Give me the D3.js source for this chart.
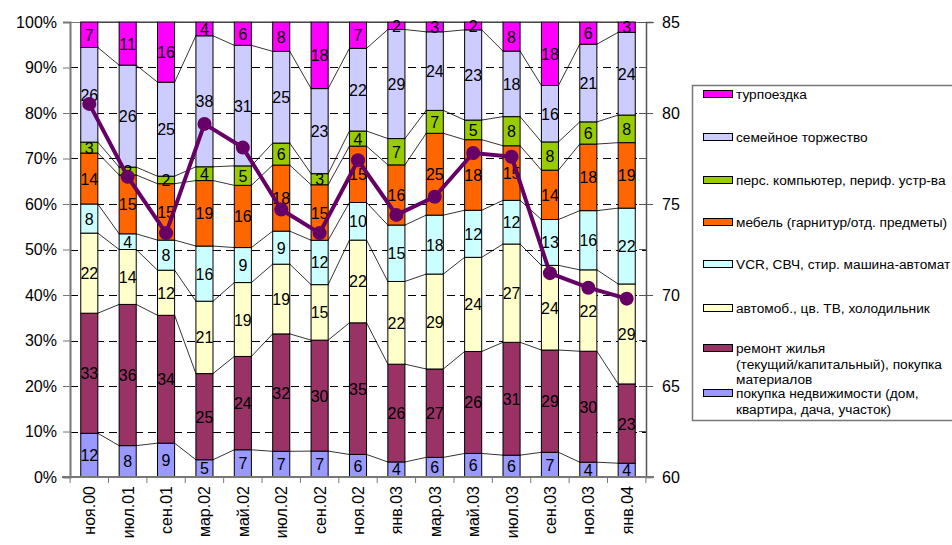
<!DOCTYPE html>
<html>
<head>
<meta charset="utf-8">
<script src="https://cdn.jsdelivr.net/npm/d3@7"></script>
<style>
  body { margin: 0; background: #fff; }
  svg { font-family: "Liberation Sans", Arial, sans-serif; }
</style>
</head>
<body>
<div class="container"></div>
<script>
const WIDTH = 952;
const HEIGHT = 545;

var months = ["ноя.00", "июл.01", "сен.01", "мар.02", "май.02", "июл.02", "сен.02", "ноя.02",
              "янв.03", "мар.03", "май.03", "июл.03", "сен.03", "ноя.03", "янв.04"];

// series from bottom to top
var realty   = [12, 8, 9, 5, 7, 7, 7, 6, 4, 6, 6, 6, 7, 4, 4];
var repair   = [33, 36, 34, 25, 24, 32, 30, 35, 26, 27, 26, 31, 29, 30, 23];
var car      = [22, 14, 12, 21, 19, 19, 15, 22, 22, 29, 24, 27, 24, 22, 29];
var vcr      = [8, 4, 8, 16, 9, 9, 12, 10, 15, 18, 12, 12, 13, 16, 22];
var furnit   = [14, 15, 15, 19, 16, 18, 15, 15, 16, 25, 18, 15, 14, 18, 19];
var pc       = [3, 2, 2, 4, 5, 6, 3, 4, 7, 7, 5, 8, 8, 6, 8];
var family   = [26, 26, 25, 38, 31, 25, 23, 22, 29, 24, 23, 18, 16, 21, 24];
var trip     = [7, 11, 16, 4, 6, 8, 18, 7, 2, 3, 2, 8, 18, 6, 3];

// line on right axis
var index = [80.5, 76.5, 73.4, 79.4, 78.1, 74.7, 73.4, 77.4, 74.4, 75.4, 77.8, 77.6, 71.2, 70.4, 69.8];

var seriesNames = [
    "покупка недвижимости (дом, квартира, дача, участок)",
    "ремонт жилья (текущий/капитальный), покупка материалов",
    "автомоб., цв. ТВ, холодильник",
    "VCR, СВЧ, стир. машина-автомат",
    "мебель (гарнитур/отд. предметы)",
    "перс. компьютер, периф. устр-ва",
    "семейное торжество",
    "турпоездка"
];
var seriesValues = [realty, repair, car, vcr, furnit, pc, family, trip];
var colors = ["#9999FF", "#993366", "#FFFFCC", "#CCFFFF", "#FF6600", "#99CC00", "#CCCCFF", "#FF00FF"];

// legend lines (top to bottom as shown)
var legendLines = [
    ["турпоездка"],
    ["семейное торжество"],
    ["перс. компьютер, периф. устр-ва"],
    ["мебель (гарнитур/отд. предметы)"],
    ["VCR, СВЧ, стир. машина-автомат"],
    ["автомоб., цв. ТВ, холодильник"],
    ["ремонт жилья", "(текущий/капитальный), покупка", "материалов"],
    ["покупка недвижимости (дом,", "квартира, дача, участок)"]
];

var load = function(){
    var left = 70, right = 646, top = 22, bottom = 477;

    var svg = d3.select(".container")
        .append("svg")
        .attr("width", WIDTH)
        .attr("height", HEIGHT);

    var rows = months.map(function(m, i){
        var r = {month: m};
        seriesValues.forEach(function(s, k){ r["s" + k] = s[i]; });
        return r;
    });
    var keys = seriesValues.map(function(s, k){ return "s" + k; });
    var stacked = d3.stack().keys(keys).offset(d3.stackOffsetExpand)(rows);

    var x = d3.scaleBand().domain(months).range([left, right]).paddingInner(0.555).paddingOuter(0.28);
    var y = d3.scaleLinear().domain([0, 1]).range([bottom, top]);
    var y2 = d3.scaleLinear().domain([60, 85]).range([bottom, top]);

    // gridlines
    svg.append("g")
        .selectAll("line")
        .data(d3.range(0.1, 1.0, 0.1))
        .enter()
        .append("line")
        .attr("x1", left).attr("x2", right)
        .attr("y1", function(d){ return Math.round(y(d)) + 0.5; })
        .attr("y2", function(d){ return Math.round(y(d)) + 0.5; })
        .style("stroke", "#000")
        .style("stroke-dasharray", "8,5");
    svg.append("line")
        .attr("x1", left).attr("x2", right + 8)
        .attr("y1", top + 0.5).attr("y2", top + 0.5)
        .style("stroke", "#777");

    // series lines between bars
    var bw = x.bandwidth();
    stacked.forEach(function(layer){
        for (var i = 0; i < months.length - 1; i++) {
            svg.append("line")
                .attr("x1", x(months[i]) + bw)
                .attr("y1", y(layer[i][1]))
                .attr("x2", x(months[i + 1]))
                .attr("y2", y(layer[i + 1][1]))
                .style("stroke", "#000")
                .style("stroke-width", 0.8);
        }
    });

    // bars
    var layers = svg.append("g")
        .selectAll("g")
        .data(stacked)
        .enter()
        .append("g")
        .attr("fill", function(d, k){ return colors[k]; });

    layers.selectAll("rect")
        .data(function(d){ return d; })
        .enter()
        .append("rect")
        .attr("x", function(d){ return x(d.data.month); })
        .attr("y", function(d){ return y(d[1]); })
        .attr("width", bw)
        .attr("height", function(d){ return y(d[0]) - y(d[1]); })
        .style("stroke", "#000")
        .style("stroke-width", 1);

    // value labels
    stacked.forEach(function(layer, k){
        svg.append("g")
            .selectAll("text")
            .data(layer)
            .enter()
            .append("text")
            .attr("x", function(d){ return x(d.data.month) + bw / 2; })
            .attr("y", function(d){ return (y(d[0]) + y(d[1])) / 2 + 6; })
            .attr("text-anchor", "middle")
            .style("font-size", "16px")
            .text(function(d, i){ return seriesValues[k][i]; });
    });

    // left axis
    var yAxis = d3.axisLeft(y).tickValues(d3.range(0, 1.01, 0.1))
        .tickFormat(d3.format(".0%")).tickSize(7).tickPadding(6);
    var gy = svg.append("g").attr("transform", "translate(" + left + ",0)").call(yAxis);
    gy.select(".domain").style("stroke", "#777").style("stroke-width", 2);
    gy.selectAll(".tick line").style("stroke", "#777");
    gy.selectAll("text").style("font-size", "16px").style("fill", "#000").style("font-family", "Liberation Sans, Arial");

    // right axis
    var y2Axis = d3.axisRight(y2).tickValues([60, 65, 70, 75, 80, 85]).tickSize(7).tickPadding(9);
    var gy2 = svg.append("g").attr("transform", "translate(" + right + ",0)").call(y2Axis);
    gy2.select(".domain").style("stroke", "#555").style("stroke-width", 1.5);
    gy2.selectAll(".tick line").attr("x1", -7).style("stroke", "#555");
    gy2.selectAll("text").style("font-size", "16px").style("fill", "#000").style("font-family", "Liberation Sans, Arial");
    gy2.selectAll(".minor")
        .data([62.5, 67.5, 72.5, 77.5, 82.5])
        .enter()
        .append("line")
        .attr("class", "minor")
        .attr("x1", -7).attr("x2", 0)
        .attr("y1", function(d){ return y2(d); })
        .attr("y2", function(d){ return y2(d); })
        .style("stroke", "#555");

    // bottom axis
    var gx = svg.append("g").attr("transform", "translate(0," + bottom + ")");
    gx.append("line").attr("x1", left - 8).attr("x2", right + 8).attr("y1", 0).attr("y2", 0)
        .style("stroke", "#777").style("stroke-width", 2);
    var step = x.step();
    gx.selectAll(".xt")
        .data(d3.range(months.length + 1))
        .enter()
        .append("line")
        .attr("x1", function(i){ return x(months[0]) - x.paddingInner() * step / 2 + i * step; })
        .attr("x2", function(i){ return x(months[0]) - x.paddingInner() * step / 2 + i * step; })
        .attr("y1", 0).attr("y2", 6)
        .style("stroke", "#777");
    gx.selectAll(".xl")
        .data(months)
        .enter()
        .append("text")
        .attr("transform", function(d){ return "translate(" + (x(d) + bw / 2 + 6) + ",9) rotate(-90)"; })
        .attr("text-anchor", "end")
        .style("font-size", "16px")
        .text(function(d){ return d; });

    // line series
    var line = d3.line()
        .x(function(d, i){ return x(months[i]) + bw / 2; })
        .y(function(d){ return y2(d); });
    svg.append("path")
        .datum(index)
        .attr("d", line)
        .style("fill", "none")
        .style("stroke", "#660066")
        .style("stroke-width", 4);
    svg.selectAll(".dot")
        .data(index)
        .enter()
        .append("circle")
        .attr("cx", function(d, i){ return x(months[i]) + bw / 2; })
        .attr("cy", function(d){ return y2(d); })
        .attr("r", 7)
        .style("fill", "#660066");

    // legend
    var lg = svg.append("g");
    lg.append("rect")
        .attr("x", 692.5).attr("y", 85.5).attr("width", 270).attr("height", 335)
        .style("fill", "#fff").style("stroke", "#777").style("stroke-width", 1.5);
    var itemY = [94, 137, 180, 222, 264, 308, 348, 393];
    legendLines.forEach(function(lines, k){
        var col = colors[colors.length - 1 - k];
        lg.append("rect")
            .attr("x", 703.5).attr("y", itemY[k] - 3.5).attr("width", 29).attr("height", 7)
            .style("fill", col).style("stroke", "#000");
        lines.forEach(function(t, j){
            lg.append("text")
                .attr("x", 736)
                .attr("y", itemY[k] + 5 + j * 15.5)
                .style("font-size", "13.7px")
                .text(t);
        });
    });
};

window.onload = load;
</script>
</body>
</html>
